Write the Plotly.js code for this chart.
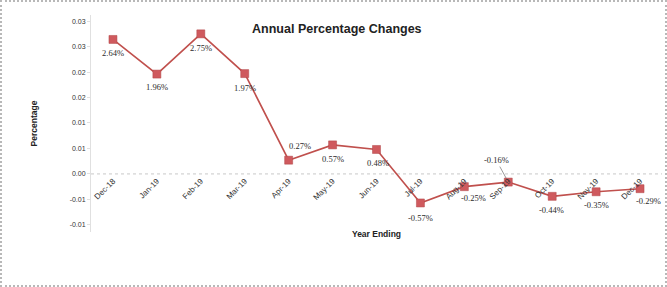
<!DOCTYPE html>
<html>
<head>
<meta charset="utf-8">
<script src="https://cdn.plot.ly/plotly-3.0.1.min.js"></script>
<style>
  html, body { margin: 0; padding: 0; background: #fff; }
  #chart { width: 663px; height: 283px; border: 2px dotted #b8b8b8; }
</style>
</head>
<body>
<div id="chart"></div>
<script>
const months = ["Dec-18","Jan-19","Feb-19","Mar-19","Apr-19","May-19","Jun-19","Jul-19","Aug-19","Sep-19","Oct-19","Nov-19","Dec-19"];
const changes = [0.0264, 0.0196, 0.0275, 0.0197, 0.0027, 0.0057, 0.0048, -0.0057, -0.0025, -0.0016, -0.0044, -0.0035, -0.0029];
const yTickVals = [0.03, 0.025, 0.02, 0.015, 0.01, 0.005, 0, -0.005, -0.01];
const yTickText = ["0.03","0.03","0.02","0.02","0.01","0.01","0.00","-0.01","-0.01"];

// label offsets (pixels) relative to each marker: [dx, dy-up, leader line]
const labelOffsets = [[0,-14],[0,-13],[0,-14],[0,-14],[11,14],[0,-14],[1,-14],[0,-15],[9,-11],[-12,22,true],[-1,-14],[0,-13],[8,-12]];

const yMin = -0.0114, yMax = 0.0312;

const trace = {
  x: months,
  y: changes,
  type: "scatter",
  mode: "lines+markers",
  line: { color: "#c0504d", width: 1.6 },
  marker: { symbol: "square", size: 8, color: "#cf5a5e", line: { color: "#b04446", width: 0.5 } },
  cliponaxis: false,
  hoverinfo: "x+y"
};

const labelFont = { family: "Liberation Serif, serif", size: 8.5, color: "#2a2a2a" };
const annotations = changes.map((v, i) => {
  const o = labelOffsets[i];
  const txt = (v * 100).toFixed(2) + "%";
  if (o[2]) {
    return { x: months[i], y: v, xref: "x", yref: "y", text: txt, font: labelFont,
      showarrow: true, arrowhead: 0, arrowwidth: 0.6, arrowcolor: "#555",
      ax: o[0], ay: -o[1], standoff: 4 };
  }
  return { x: months[i], y: v, xref: "x", yref: "y", text: txt, font: labelFont,
    showarrow: false, xshift: o[0], yshift: o[1] };
});

const layout = {
  width: 663, height: 283,
  margin: { l: 89, r: 3, t: 13, b: 53 },
  paper_bgcolor: "#fff",
  plot_bgcolor: "#fff",
  showlegend: false,
  title: {
    text: "<b>Annual Percentage Changes</b>",
    font: { family: "Liberation Sans, Arial, sans-serif", size: 12.5, color: "#222" },
    x: 0.505, xanchor: "center", y: 0.905, yanchor: "middle"
  },
  xaxis: {
    type: "category",
    range: [-0.5, 12.5],
    anchor: "free",
    position: (0 - yMin) / (yMax - yMin),
    tickangle: -45,
    showgrid: false,
    zeroline: false,
    showline: false,
    ticks: "",
    tickfont: { family: "Liberation Sans, Arial, sans-serif", size: 8, color: "#333" },
    title: {
      text: "<b>Year Ending</b>",
      font: { family: "Liberation Sans, Arial, sans-serif", size: 8.5, color: "#222" },
      standoff: 30
    }
  },
  yaxis: {
    range: [yMin, yMax],
    tickvals: yTickVals,
    ticktext: yTickText,
    showgrid: false,
    zeroline: false,
    showline: true,
    linecolor: "#e0e0e0",
    linewidth: 1,
    ticks: "outside",
    ticklen: 3,
    tickcolor: "#e0e0e0",
    tickfont: { family: "Liberation Sans, Arial, sans-serif", size: 7, color: "#333" },
    title: {
      text: "<b>Percentage</b>",
      font: { family: "Liberation Sans, Arial, sans-serif", size: 8.5, color: "#222" },
      standoff: 30
    }
  },
  annotations: annotations,
  shapes: [{
    type: "line", xref: "paper", yref: "y",
    x0: 0, x1: 1, y0: 0, y1: 0,
    line: { color: "#c8c8c8", width: 1, dash: "dot" },
    layer: "below"
  }]
};

Plotly.newPlot("chart", [trace], layout, { displayModeBar: false, staticPlot: true });
</script>
</body>
</html>
